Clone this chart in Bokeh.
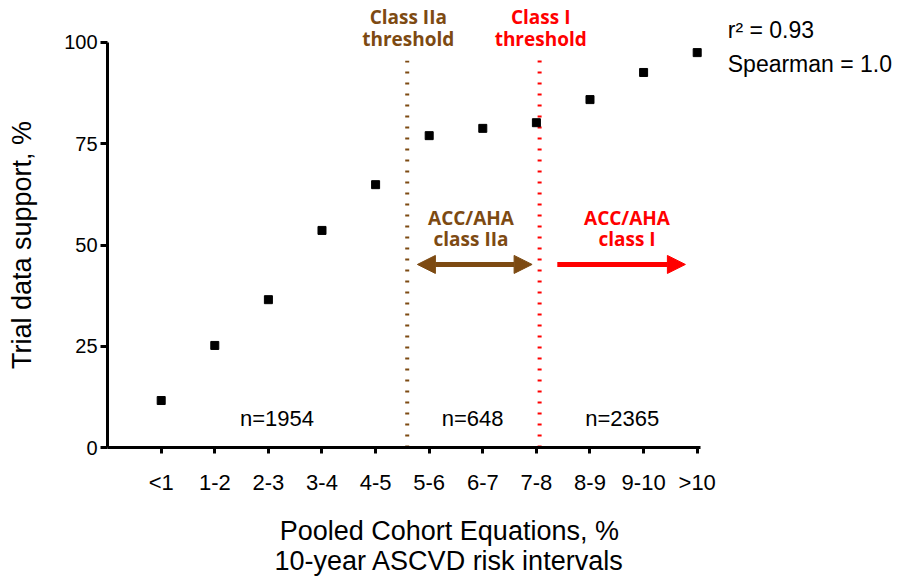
from bokeh.plotting import figure
from bokeh.models import Label, Arrow, NormalHead, FixedTicker
from bokeh.embed import file_html
from bokeh.resources import INLINE

BROWN = "#7d4a12"
RED = "#ff0000"

categories = ["<1", "1-2", "2-3", "3-4", "4-5", "5-6", "6-7", "7-8", "8-9", "9-10", ">10"]
support = [11.6, 25.2, 36.5, 53.6, 64.9, 77.0, 78.8, 80.2, 85.9, 92.6, 97.5]
y_ticks = [0, 25, 50, 75, 100]

threshold_pos = [4.59, 7.06]
threshold_top = [95.5, 97.3]
threshold_names = ["Class IIa\nthreshold", "Class I\nthreshold"]
threshold_colors = [BROWN, RED]

n_labels = ["n=1954", "n=648", "n=2365"]
n_pos = [2.16, 5.81, 8.6]
n_y = 7.2

class_labels = ["ACC/AHA\nclass IIa", "ACC/AHA\nclass I"]
class_pos = [5.78, 8.69]
class_y = 54.0
arrow_start = [4.78, 7.39]
arrow_end = [6.92, 9.78]
arrow_y = 45.2

stats = ["r\u00b2 = 0.93", "Spearman = 1.0"]
stats_y = [103.2, 94.8]
stats_x = 10.57

x_title = "Pooled Cohort Equations, %\n10-year ASCVD risk intervals"
x_title_pos = (5.376, -24.2)
y_title = "Trial data support, %"

xs = list(range(len(categories)))

# frame covers the whole canvas; axes are placed at fixed data locations
p = figure(width=897, height=579, x_range=(-2.998, 13.737), y_range=(-32.59, 110.37),
           output_backend="svg", toolbar_location=None, min_border=0)
p.outline_line_color = None
p.xgrid.visible = False
p.ygrid.visible = False

FONT = "Liberation Sans"

p.xaxis.ticker = FixedTicker(ticks=xs)
p.xaxis.major_label_overrides = {i: c for i, c in enumerate(categories)}
p.yaxis.ticker = FixedTicker(ticks=y_ticks)
for ax in (p.xaxis[0], p.yaxis[0]):
    ax.axis_line_width = 3
    ax.major_tick_line_width = 3
    ax.major_tick_in = 0
    ax.minor_tick_line_color = None
    ax.major_label_text_font = FONT
    ax.axis_label_text_font = FONT
    ax.axis_label_text_font_style = "normal"
    ax.axis_label_text_font_size = "27px"
    ax.axis_label_text_color = "black"
    ax.major_label_text_color = "black"
p.xaxis.fixed_location = 0
p.xaxis.bounds = (-1.0, 10.06)
p.xaxis.major_tick_out = 6
p.xaxis.major_label_standoff = 16
p.xaxis.major_label_text_font_size = "22px"
p.yaxis.fixed_location = -1.0
p.yaxis.bounds = (0, 100)
p.yaxis.major_tick_out = 7
p.yaxis.major_label_standoff = 3
p.yaxis.major_label_text_font_size = "20px"
p.yaxis.axis_label = y_title
p.yaxis.axis_label_standoff = 24

# x-axis title (centred under the whole chart as in the reference)
p.add_layout(Label(x=x_title_pos[0], y=x_title_pos[1], text=x_title, text_font=FONT,
                   text_font_size="27px", text_align="center", text_baseline="middle",
                   text_color="black", text_line_height=1.0))

# threshold lines
p.segment(x0=threshold_pos, y0=[0, 0], x1=threshold_pos, y1=threshold_top,
          line_color=threshold_colors, line_width=4, line_dash="2 9")

# points
p.scatter(xs, support, marker="square", size=8, color="black")

# threshold titles
for x, name, c in zip(threshold_pos, threshold_names, threshold_colors):
    p.add_layout(Label(x=x + 0.02, y=103.6, text=name, text_color=c, text_font="Open Sans",
                       text_font_style="bold", text_font_size="19px", text_align="center",
                       text_baseline="middle", text_line_height=0.83))

# class labels and arrows
for x, name, c in zip(class_pos, class_labels, threshold_colors):
    p.add_layout(Label(x=x, y=class_y, text=name, text_color=c, text_font="Open Sans",
                       text_font_style="bold", text_font_size="19px", text_align="center",
                       text_baseline="middle", text_line_height=0.8))

p.add_layout(Arrow(x_start=arrow_start[0], y_start=arrow_y, x_end=arrow_end[0], y_end=arrow_y,
                   line_color=BROWN, line_width=5,
                   start=NormalHead(size=18, fill_color=BROWN, line_color=BROWN),
                   end=NormalHead(size=18, fill_color=BROWN, line_color=BROWN)))
p.add_layout(Arrow(x_start=arrow_start[1], y_start=arrow_y, x_end=arrow_end[1], y_end=arrow_y,
                   line_color=RED, line_width=5,
                   end=NormalHead(size=18, fill_color=RED, line_color=RED)))

# n labels
for x, t in zip(n_pos, n_labels):
    p.add_layout(Label(x=x, y=n_y, text=t, text_font=FONT, text_font_size="22px",
                       text_align="center", text_baseline="middle", text_color="black"))

# stats
for t, y in zip(stats, stats_y):
    p.add_layout(Label(x=stats_x, y=y, text=t, text_font=FONT, text_font_size="23px",
                       text_align="left", text_baseline="middle", text_color="black"))

open("out.html", "w").write(file_html(p, INLINE))
